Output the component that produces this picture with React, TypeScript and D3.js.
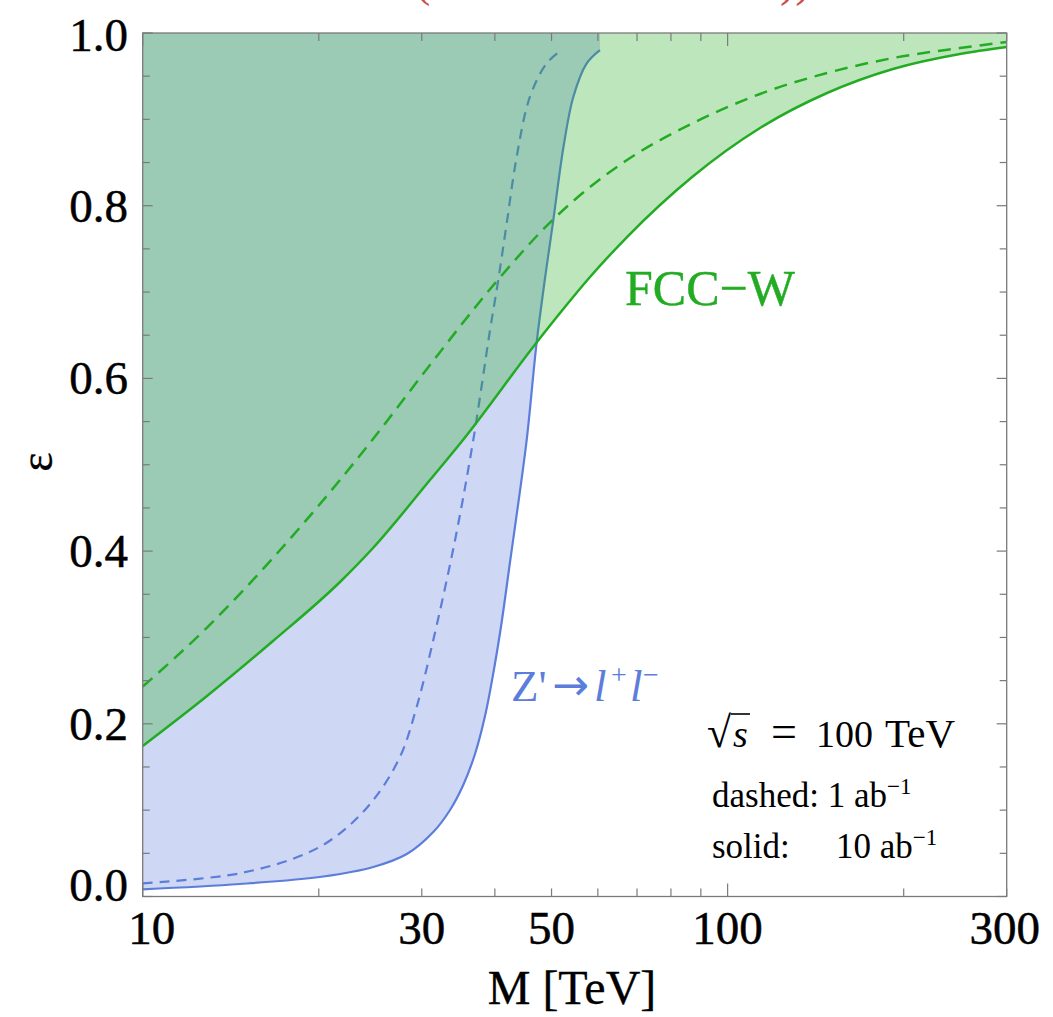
import React from 'react';
import * as d3 from 'd3';

// ---- data (M in TeV, epsilon) ----
const greenSolidM = [10, 12.88, 16.7, 21.74, 24.76, 30.98, 35.28, 47.22, 51.7, 58.17, 67.3, 87.27, 113.6, 147.9, 191.7, 249.5, 300];
const greenSolidE = [0.1743, 0.2322, 0.2959, 0.3642, 0.4036, 0.4823, 0.5287, 0.6422, 0.6757, 0.7174, 0.7637, 0.8341, 0.89, 0.9305, 0.9583, 0.9757, 0.9838];

const greenDashedM = [10, 12.88, 16.7, 21.74, 24.76, 30.98, 40.33, 50.3, 58.17, 67.3, 87.27, 113.6, 147.9, 191.7, 249.5, 300];
const greenDashedE = [0.243, 0.3115, 0.392, 0.4823, 0.5298, 0.6155, 0.7128, 0.784, 0.8216, 0.8529, 0.8957, 0.9294, 0.9537, 0.971, 0.9826, 0.9896];

const blueSolidM = [10, 14.67, 20.36, 24.79, 28.28, 31.39, 33.53, 35.32, 36.99, 38.48, 39.76, 41.09, 42.46, 43.94, 45.34, 47.17, 48.74, 50.35, 52.37, 54.47, 57.42, 60.5];
const blueSolidE = [0.0083, 0.0145, 0.0232, 0.0342, 0.0492, 0.0747, 0.1002, 0.1291, 0.165, 0.209, 0.2588, 0.3179, 0.3874, 0.4592, 0.5287, 0.6425, 0.7163, 0.7834, 0.8668, 0.9259, 0.9649, 0.9803];

const blueDashedM = [10, 14.67, 19.07, 21.74, 24.79, 27.54, 29.41, 31.39, 34.2, 36.74, 39.25, 40.54, 41.91, 43.59, 45.93, 49.06, 52.04];
const blueDashedE = [0.0153, 0.0269, 0.05, 0.0732, 0.1118, 0.1619, 0.2198, 0.297, 0.4129, 0.5287, 0.6561, 0.714, 0.7796, 0.8567, 0.9262, 0.9649, 0.9803];

const xTickLabels = [10, 30, 50, 100, 300];
const xTicks = [10, 20, 30, 40, 50, 60, 70, 80, 90, 100, 200, 300];
const xMajor = [10, 100];
const yTickLabels = [0, 0.2, 0.4, 0.6, 0.8, 1.0];
const yTicks = d3.range(0, 21).map((i) => i * 0.05);

const W = 1053;
const H = 1017;
const X0 = 142.7, X1 = 1006.7, Y0 = 896.5, Y1 = 33;

const GREEN = 'rgb(35,172,35)';
const BLUE = 'rgb(92,126,218)';
const SERIF = "'Liberation Serif', 'Times New Roman', 'DejaVu Serif', serif";

export default function App() {
  const x = d3.scaleLog().domain([10, 300]).range([X0, X1]);
  const y = d3.scaleLinear().domain([0, 1]).range([Y0, Y1]);
  const pts = (ms: number[], es: number[]) => ms.map((m, i) => [x(m), y(es[i])] as [number, number]);
  const gLine = d3.line().curve(d3.curveMonotoneX);
  const bLine = d3.line().curve(d3.curveCatmullRom.alpha(0.5));

  const gs = pts(greenSolidM, greenSolidE);
  const gd = pts(greenDashedM, greenDashedE);
  const bs = pts(blueSolidM, blueSolidE);
  const bd = pts(blueDashedM, blueDashedE);

  const blueFill = bLine(bs) + `L${x(blueSolidM[blueSolidM.length - 1])},${y(1)}L${x(10)},${y(1)}Z`;
  const greenFill = gLine(gs) + `L${x(300)},${y(1)}L${x(10)},${y(1)}Z`;

  const tickColor = '#7a7a7a';
  const lblProps = { fill: '#000', stroke: '#000', strokeWidth: 0.5 };

  return (
    <svg width={W} height={H} style={{ position: 'absolute', left: 0, top: 0, background: '#fff' }} fontFamily={SERIF}>
      <defs>
        <clipPath id="plotClip">
          <rect x={X0} y={Y1} width={X1 - X0} height={Y0 - Y1} />
        </clipPath>
      </defs>
      {/* cut-off red title remnants (title lies above the visible area) */}
      <text x={415} y={-4} fontSize={46} fill="rgb(200,80,76)">(</text>
      <text x={780} y={-4} fontSize={46} fill="rgb(200,80,76)">))</text>

      <g clipPath="url(#plotClip)">
        <path d={blueFill} fill={BLUE} fillOpacity={0.3} stroke="none" />
        <path d={bLine(bd) || ''} fill="none" stroke={BLUE} strokeWidth={2.2} strokeDasharray="10,7" />
        <path d={bLine(bs) || ''} fill="none" stroke={BLUE} strokeWidth={2.2} />
        <path d={greenFill} fill={GREEN} fillOpacity={0.3} stroke="none" />
        <path d={gLine(gd) || ''} fill="none" stroke={GREEN} strokeWidth={2.5} strokeDasharray="13,8" />
        <path d={gLine(gs) || ''} fill="none" stroke={GREEN} strokeWidth={2.5} />
      </g>

      {/* frame */}
      <rect x={X0} y={Y1} width={X1 - X0} height={Y0 - Y1} fill="none" stroke={tickColor} strokeWidth={1.3} />

      {/* x ticks */}
      {xTicks.map((t) => {
        const len = xMajor.includes(t) ? 13 : 8;
        return (
          <g key={'xt' + t}>
            <line x1={x(t)} x2={x(t)} y1={Y0} y2={Y0 - len} stroke={tickColor} strokeWidth={1.2} />
            <line x1={x(t)} x2={x(t)} y1={Y1} y2={Y1 + len} stroke={tickColor} strokeWidth={1.2} />
          </g>
        );
      })}
      {/* y ticks */}
      {yTicks.map((t, i) => {
        const len = i % 4 === 0 ? 10 : 7;
        return (
          <g key={'yt' + i}>
            <line x1={X0} x2={X0 + len} y1={y(t)} y2={y(t)} stroke={tickColor} strokeWidth={1.2} />
            <line x1={X1} x2={X1 - len} y1={y(t)} y2={y(t)} stroke={tickColor} strokeWidth={1.2} />
          </g>
        );
      })}

      {/* tick labels */}
      {yTickLabels.map((v) => (
        <text key={'yl' + v} x={128} y={y(v) + 16 + (v === 0 ? -12 : v === 1 ? 2 : 0)} fontSize={47} textAnchor="end" {...lblProps}>
          {v.toFixed(1)}
        </text>
      ))}
      {xTickLabels.map((v) => (
        <text key={'xl' + v} x={v === 10 ? x(v) + 9 : v === 300 ? x(v) - 2 : x(v)} y={944} fontSize={47} textAnchor="middle" {...lblProps}>
          {v}
        </text>
      ))}

      {/* axis titles */}
      <text x={572} y={1004} fontSize={48} textAnchor="middle" {...lblProps} strokeWidth={0.3}>M [TeV]</text>
      <text transform="translate(52,462) rotate(-90)" fontSize={46} textAnchor="middle" {...lblProps} strokeWidth={0.3}>ε</text>

      {/* annotations */}
      <text x={625} y={305} fontSize={50} fill={GREEN} stroke={GREEN} strokeWidth={0.4}>FCC−W</text>
      <text x={511} y={701} fontSize={45} fill={BLUE}>
        <tspan>Z'</tspan>
        <tspan x={552} dy={-1} fontFamily="'DejaVu Sans', sans-serif" fontSize={44}>→</tspan>
        <tspan x={594} dy={1} fontStyle="italic">l</tspan>
        <tspan x={611} dy={-17} fontSize={28}>+</tspan>
        <tspan x={630} dy={17} fontStyle="italic">l</tspan>
        <tspan x={643} dy={-17} fontSize={28}>−</tspan>
      </text>

      <text y={747} fontSize={38} fill="#000">
        <tspan x={707} fontSize={44}>√</tspan>
        <tspan x={733} fontStyle="italic">s</tspan>
        <tspan x={771} fontSize={46}>=</tspan>
        <tspan x={816}>100</tspan>
        <tspan x={885} fontSize={41}>TeV</tspan>
      </text>
      <line x1={731} x2={750} y1={714} y2={714} stroke="#000" strokeWidth={1.6} />

      <text x={712} y={807} fontSize={35} fill="#000">
        <tspan>dashed: 1 ab</tspan>
        <tspan dy={-13} fontSize={23}>−1</tspan>
      </text>
      <text x={712} y={858} fontSize={35} fill="#000">
        <tspan>solid:</tspan>
        <tspan x={836}>10 ab</tspan>
        <tspan dy={-13} fontSize={23}>−1</tspan>
      </text>
    </svg>
  );
}
